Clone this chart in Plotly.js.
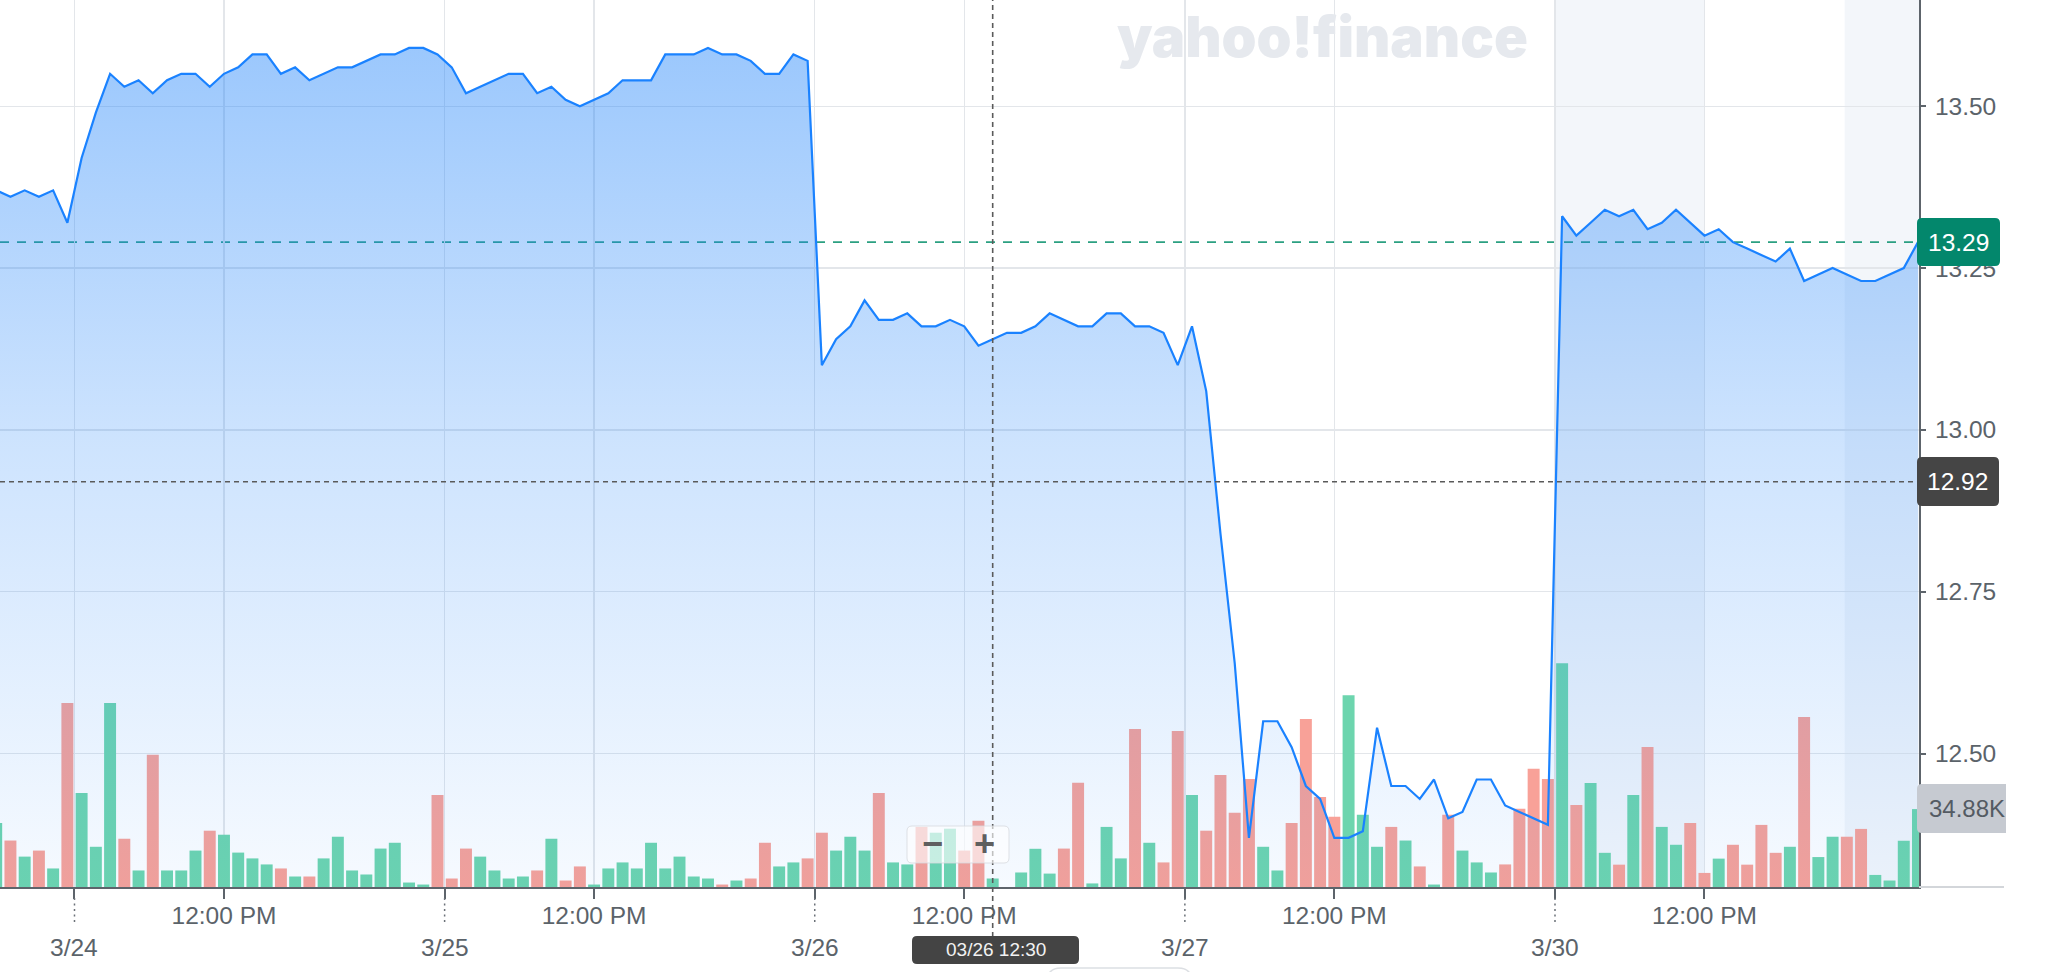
<!DOCTYPE html>
<html>
<head>
<meta charset="utf-8">
<script src="https://cdn.plot.ly/plotly-3.0.1.min.js"></script>
<style>
html,body{margin:0;padding:0;background:#ffffff;}
#chart{width:2048px;height:972px;}
</style>
</head>
<body>
<div id="chart"></div>
<script>
// ---------------- DATA ----------------
const dayLabels = ['3/24', '3/25', '3/26', '3/27', '3/30'];
const slotsPerDay = 26;          // 15-minute bars, 9:30 - 16:00
const noonSlot = 10;             // 12:00 PM bar within a session
const preBars = 6;               // trailing bars of 3/23 visible on the left
const noonLabel = '12:00 PM';

// 15-min closing prices (3/23 last 6 bars, then 3/24 ... 3/30)
const prices = [
  13.37, 13.36, 13.37, 13.36, 13.37, 13.32,
  // 3/24
  13.42, 13.49, 13.55, 13.53, 13.54, 13.52, 13.54, 13.55, 13.55, 13.53, 13.55, 13.56, 13.58,
  13.58, 13.55, 13.56, 13.54, 13.55, 13.56, 13.56, 13.57, 13.58, 13.58, 13.59, 13.59, 13.58,
  // 3/25
  13.56, 13.52, 13.53, 13.54, 13.55, 13.55, 13.52, 13.53, 13.51, 13.50, 13.51, 13.52, 13.54,
  13.54, 13.54, 13.58, 13.58, 13.58, 13.59, 13.58, 13.58, 13.57, 13.55, 13.55, 13.58, 13.57,
  // 3/26
  13.10, 13.14, 13.16, 13.20, 13.17, 13.17, 13.18, 13.16, 13.16, 13.17, 13.16, 13.13, 13.14,
  13.15, 13.15, 13.16, 13.18, 13.17, 13.16, 13.16, 13.18, 13.18, 13.16, 13.16, 13.15, 13.10,
  // 3/27
  13.16, 13.06, 12.84, 12.64, 12.37, 12.55, 12.55, 12.51, 12.45, 12.43, 12.37, 12.37, 12.38,
  12.54, 12.45, 12.45, 12.43, 12.46, 12.40, 12.41, 12.46, 12.46, 12.42, 12.41, 12.40, 12.39,
  // 3/30
  13.33, 13.30, 13.32, 13.34, 13.33, 13.34, 13.31, 13.32, 13.34, 13.32, 13.30, 13.31, 13.29,
  13.28, 13.27, 13.26, 13.28, 13.23, 13.24, 13.25, 13.24, 13.23, 13.23, 13.24, 13.25, 13.29
];

// 15-min volumes (same bars)
const volumes = [
  28.7, 20.8, 13.6, 16.3, 8.3, 82.3,
  // 3/24
  42.1, 18.0, 82.3, 21.6, 7.4, 59.2, 7.4, 7.4, 16.3, 25.2, 23.4, 15.4, 12.8,
  10.1, 8.3, 4.7, 4.7, 12.8, 22.5, 7.4, 5.6, 17.2, 19.8, 2.0, 1.1, 41.2,
  // 3/25
  3.8, 17.2, 13.6, 7.4, 3.8, 4.7, 7.4, 21.6, 2.9, 9.2, 1.1, 8.3, 11.0,
  8.3, 19.8, 8.3, 13.6, 4.7, 3.8, 1.1, 2.9, 3.8, 19.8, 9.2, 11.0, 12.8,
  // 3/26
  24.3, 16.3, 22.5, 16.3, 42.1, 11.0, 10.1, 26.9, 24.3, 26.1, 16.3, 29.6, 3.8,
  0, 6.5, 17.1, 6.0, 17.2, 46.7, 1.6, 26.9, 12.8, 70.7, 19.8, 11.0, 69.8,
  // 3/27
  41.2, 25.2, 50.1, 33.2, 48.3, 18.0, 7.4, 28.7, 75.2, 40.3, 31.4, 85.8, 32.3,
  18.0, 26.9, 20.8, 9.2, 1.1, 32.3, 16.3, 11.0, 6.5, 10.1, 35.0, 52.9, 48.3,
  // 3/30
  100.1, 36.7, 46.5, 15.3, 10.0, 41.2, 62.7, 26.9, 18.9, 28.7, 6.3, 12.7, 18.9,
  10.0, 27.8, 15.3, 18.0, 76.1, 13.4, 22.5, 22.5, 26.0, 5.4, 2.9, 20.7, 34.88
];

const yTicks = [12.50, 12.75, 13.00, 13.25, 13.50];
const lastPriceLabel = '13.29';
const hoverPrice = 12.92;
const hoverDay = '3/26';
const hoverSlot = 12;             // 12:30
const hoverLabel = '03/26 12:30';
const lastVolumeLabel = '34.88K';
const watermark = 'yahoo!finance';
// shaded session regions (bar-index units, relative to 3/24 open)
const shadeRanges = [[103.5, 114.0], [123.85, 129.5]];

// ---------------- STYLE / GEOMETRY ----------------
const W = 2048, H = 972;
const M = {l: 0, r: 129, t: 0, b: 85};
const PW = W - M.l - M.r, PH = H - M.t - M.b;
const xMin = -5.733, xMax = 129.07;
const yMin = 12.294, yMax = 13.664;
const volMax = 397;
const axisColor = '#5d646b';
const textColor = '#5b636a';
const gridColor = '#e3e6ea';
const upColor = '#6dd5ae';
const downColor = '#f8a198';
const lineColor = '#1a82ff';
const FONT = 'Liberation Sans, Arial, Helvetica, sans-serif';

const xs = prices.map((_, i) => i - preBars);
const barColors = prices.map((p, i) => (i === 0 || p >= prices[i - 1]) ? upColor : downColor);

const xp = px => px / PW;               // pixel -> paper x
const yp = py => (PH - py) / PH;        // pixel (from top) -> paper y
const dataToPaperX = v => (v - xMin) / (xMax - xMin);

function roundRect(x0, y0, x1, y1, r) {
  const P = (x, y) => xp(x).toFixed(6) + ',' + yp(y).toFixed(6);
  return 'M' + P(x0 + r, y0) + ' L' + P(x1 - r, y0) + ' Q' + P(x1, y0) + ' ' + P(x1, y0 + r) +
         ' L' + P(x1, y1 - r) + ' Q' + P(x1, y1) + ' ' + P(x1 - r, y1) +
         ' L' + P(x0 + r, y1) + ' Q' + P(x0, y1) + ' ' + P(x0, y1 - r) +
         ' L' + P(x0, y0 + r) + ' Q' + P(x0, y0) + ' ' + P(x0 + r, y0) + ' Z';
}
function leftBox(x0, y0, x1, y1, r) {   // rounded on the left, square (cut) on the right
  const P = (x, y) => xp(x).toFixed(6) + ',' + yp(y).toFixed(6);
  return 'M' + P(x0 + r, y0) + ' L' + P(x1, y0) + ' L' + P(x1, y1) +
         ' L' + P(x0 + r, y1) + ' Q' + P(x0, y1) + ' ' + P(x0, y1 - r) +
         ' L' + P(x0, y0 + r) + ' Q' + P(x0, y0) + ' ' + P(x0 + r, y0) + ' Z';
}

// ticks
const tickvals = [], ticktext = [], dayBounds = [];
dayLabels.forEach((d, k) => {
  const start = k * slotsPerDay - 0.5;
  dayBounds.push(start);
  tickvals.push(start); ticktext.push('');
  tickvals.push(k * slotsPerDay + noonSlot); ticktext.push(noonLabel);
});
const hoverIndex = dayLabels.indexOf(hoverDay) * slotsPerDay + hoverSlot;

// ---------------- TRACES ----------------
const volumeTrace = {
  type: 'bar', x: xs, y: volumes, xaxis: 'x', yaxis: 'y',
  marker: {color: barColors, line: {width: 0}},
  hoverinfo: 'skip', showlegend: false
};
const priceTrace = {
  type: 'scatter', mode: 'lines', x: xs, y: prices, xaxis: 'x', yaxis: 'y2',
  line: {color: lineColor, width: 2.2, shape: 'linear'},
  fill: 'tozeroy',
  fillgradient: {
    type: 'vertical', start: yMin, stop: yMax,
    colorscale: [[0, 'rgba(30,130,250,0.04)'], [0.5, 'rgba(30,130,250,0.22)'], [1, 'rgba(30,130,250,0.47)']]
  },
  hoverinfo: 'skip', showlegend: false
};

// ---------------- SHAPES ----------------
const shapes = [];
shadeRanges.forEach(r => shapes.push({
  type: 'rect', xref: 'paper', yref: 'paper', layer: 'below',
  x0: dataToPaperX(r[0]), x1: Math.min(1, dataToPaperX(r[1])), y0: 0, y1: 1,
  fillcolor: '#f3f6fa', line: {width: 0}
}));
// last-price dashed line
shapes.push({type: 'line', xref: 'paper', yref: 'y2', layer: 'between',
  x0: 0, x1: 1, y0: parseFloat(lastPriceLabel), y1: parseFloat(lastPriceLabel),
  line: {color: 'rgba(20,150,115,0.9)', width: 1.6, dash: '9px,8px'}});
// crosshair horizontal
shapes.push({type: 'line', xref: 'paper', yref: 'y2', layer: 'above',
  x0: 0, x1: 1, y0: hoverPrice, y1: hoverPrice,
  line: {color: '#5a5a5a', width: 1.6, dash: '5px,4px'}});
// crosshair vertical
shapes.push({type: 'line', xref: 'paper', yref: 'paper', layer: 'above',
  x0: dataToPaperX(hoverIndex), x1: dataToPaperX(hoverIndex), y0: yp(937), y1: 1,
  line: {color: '#5a5a5a', width: 1.6, dash: '5px,4px'}});
// dotted day tick extensions
dayBounds.forEach(v => shapes.push({type: 'line', xref: 'paper', yref: 'paper', layer: 'above',
  x0: dataToPaperX(v), x1: dataToPaperX(v), y0: yp(898), y1: yp(924),
  line: {color: '#6b7178', width: 1.5, dash: '2px,3.5px'}}));
// bottom axis extension
shapes.push({type: 'line', xref: 'paper', yref: 'paper', layer: 'above',
  x0: xp(PW), x1: xp(2004), y0: yp(887), y1: yp(887), line: {color: '#d3d6da', width: 2}});
// value boxes
shapes.push({type: 'path', xref: 'paper', yref: 'paper', layer: 'above',
  path: roundRect(1917, 218, 2000, 266, 5), fillcolor: '#03876c', line: {width: 0}});
shapes.push({type: 'path', xref: 'paper', yref: 'paper', layer: 'above',
  path: roundRect(1917, 457, 1999, 506, 5), fillcolor: '#454545', line: {width: 0}});
shapes.push({type: 'path', xref: 'paper', yref: 'paper', layer: 'above',
  path: leftBox(1917, 784, 2006, 833, 5), fillcolor: '#c6cad1', line: {width: 0}});
shapes.push({type: 'path', xref: 'paper', yref: 'paper', layer: 'above',
  path: roundRect(912, 936, 1079, 964, 5), fillcolor: '#444444', line: {width: 0}});
// zoom widget
shapes.push({type: 'path', xref: 'paper', yref: 'paper', layer: 'above',
  path: roundRect(907, 826, 1009, 863, 5), fillcolor: 'rgba(255,255,255,0.62)',
  line: {color: 'rgba(215,218,222,0.8)', width: 1}});
// pill at bottom edge
shapes.push({type: 'path', xref: 'paper', yref: 'paper', layer: 'above',
  path: roundRect(1047, 968, 1192, 1010, 14), fillcolor: '#ffffff',
  line: {color: '#dcdfe3', width: 1.5}});

// ---------------- ANNOTATIONS ----------------
const annotations = [];
annotations.push({xref: 'paper', yref: 'paper', x: xp(1322), y: yp(37), xanchor: 'center', yanchor: 'middle',
  text: watermark, showarrow: false,
  font: {family: 'Inter, Open Sans, sans-serif', size: 56, weight: 900, color: '#e6e9ee'}});
dayLabels.forEach((d, k) => annotations.push({xref: 'x', yref: 'paper', x: dayBounds[k], y: yp(947),
  xanchor: 'center', yanchor: 'middle', text: d, showarrow: false,
  font: {family: FONT, size: 24.5, color: textColor}}));
annotations.push({xref: 'paper', yref: 'paper', x: xp(1958.5), y: yp(242), xanchor: 'center', yanchor: 'middle',
  text: lastPriceLabel, showarrow: false, font: {family: FONT, size: 24.5, color: '#ffffff'}});
annotations.push({xref: 'paper', yref: 'paper', x: xp(1958), y: yp(481.5), xanchor: 'center', yanchor: 'middle',
  text: hoverPrice.toFixed(2), showarrow: false, font: {family: FONT, size: 24.5, color: '#ffffff'}});
annotations.push({xref: 'paper', yref: 'paper', x: xp(1927), y: yp(808.5), xanchor: 'left', yanchor: 'middle',
  text: lastVolumeLabel, showarrow: false, font: {family: FONT, size: 24, color: '#545b63'}});
annotations.push({xref: 'paper', yref: 'paper', x: xp(995.5), y: yp(950), xanchor: 'center', yanchor: 'middle',
  text: hoverLabel, showarrow: false, font: {family: FONT, size: 19, color: '#f2f2f2'}});
annotations.push({xref: 'paper', yref: 'paper', x: xp(932), y: yp(843), xanchor: 'center', yanchor: 'middle',
  text: '\u2212', showarrow: false, font: {family: FONT, size: 36, weight: 700, color: '#5f5f5f'}});
annotations.push({xref: 'paper', yref: 'paper', x: xp(984), y: yp(843), xanchor: 'center', yanchor: 'middle',
  text: '+', showarrow: false, font: {family: FONT, size: 36, weight: 700, color: '#5f5f5f'}});

// ---------------- LAYOUT ----------------
const layout = {
  width: W, height: H, autosize: false,
  margin: {l: M.l, r: M.r, t: M.t, b: M.b, pad: 0},
  paper_bgcolor: '#ffffff', plot_bgcolor: '#ffffff',
  showlegend: false, hovermode: false, dragmode: false,
  bargap: 0.16,
  font: {family: FONT, size: 24.5, color: textColor},
  xaxis: {
    type: 'linear', range: [xMin, xMax], fixedrange: true,
    tickmode: 'array', tickvals: tickvals, ticktext: ticktext,
    ticks: 'outside', ticklen: 10, tickwidth: 2, tickcolor: axisColor,
    showline: true, linecolor: axisColor, linewidth: 2,
    showgrid: true, gridcolor: gridColor, gridwidth: 1.3,
    zeroline: false, tickfont: {family: FONT, size: 24.5, color: textColor},
    ticklabelstandoff: -4
  },
  yaxis: {
    range: [0, volMax], visible: false, fixedrange: true, showgrid: false, zeroline: false
  },
  yaxis2: {
    overlaying: 'y', side: 'right', anchor: 'x', range: [yMin, yMax], fixedrange: true,
    tickmode: 'array', tickvals: yTicks, ticktext: yTicks.map(v => v.toFixed(2)),
    ticks: 'outside', ticklen: 5, tickwidth: 2, tickcolor: axisColor,
    showline: true, linecolor: axisColor, linewidth: 2,
    showgrid: true, gridcolor: gridColor, gridwidth: 1.3, zeroline: false,
    tickfont: {family: FONT, size: 24.5, color: textColor},
    ticklabelstandoff: 4
  },
  shapes: shapes,
  annotations: annotations
};

Plotly.newPlot('chart', [volumeTrace, priceTrace], layout, {displayModeBar: false, staticPlot: true});
</script>
</body>
</html>
